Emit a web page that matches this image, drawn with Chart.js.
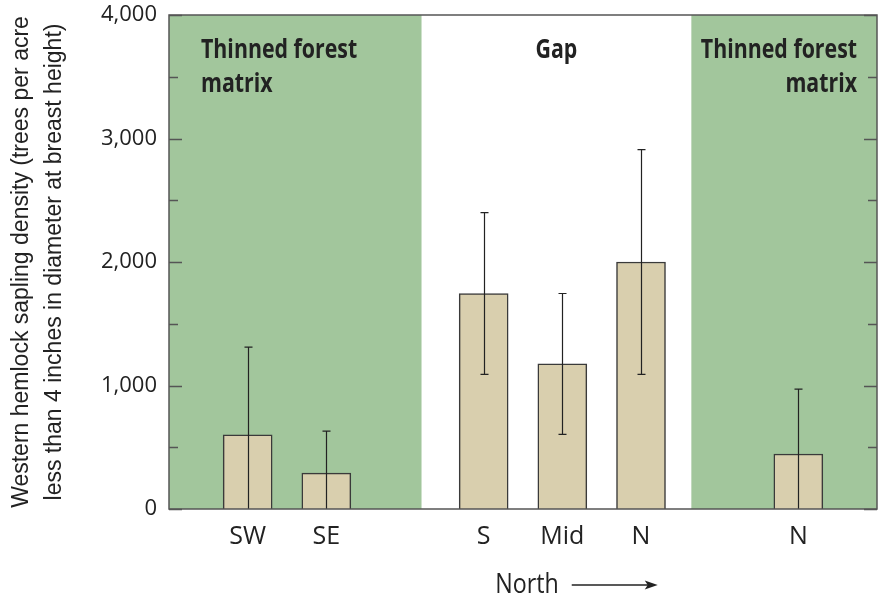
<!DOCTYPE html>
<html>
<head>
<meta charset="utf-8">
<script src="https://cdn.jsdelivr.net/npm/chart.js@4.4.1/dist/chart.umd.min.js"></script>
<style>
  body { margin: 0; background: #fff; }
  #wrap { width: 880px; height: 598px; }
</style>
</head>
<body>
<div id="wrap"><canvas id="chartHemlock"></canvas></div>
<script>
// blank slots keep the gap between the forest matrix and the gap sites
const siteLabels = ['', 'SW', 'SE', '', 'S', 'Mid', 'N', '', 'N', ''];
const meanDensity = [null, 600, 290, null, 1745, 1175, 2000, null, 445, null];
const sdDensity = [null, 710, 340, null, 655, 570, 910, null, 525, null];

const yMin = 0;
const yMax = 4000;
const yStep = 500;

// zone edges in category-index units, with their header text
const zoneEdges = [0, 3.21, 6.64, 9];
const zoneNames = [['Thinned forest', 'matrix'], ['Gap'], ['Thinned forest', 'matrix']];
const zoneShaded = [true, false, true];

const yTitle = ['Western hemlock sapling density (trees per acre',
                'less than 4 inches in diameter at breast height)'];
const xTitle = 'North';

const GREEN = '#a2c69c';
const TAN = '#d9cfae';
const INK = '#222222';
const FRAME = '#555555';
const SANS = "'Open Sans', 'Liberation Sans', sans-serif";

// draw text squeezed horizontally (the original face is a condensed one)
function squeezedText(ctx, text, x, y, sx) {
    ctx.save();
    ctx.translate(x, y);
    ctx.scale(sx, 1);
    ctx.fillText(text, 0, 0);
    ctx.restore();
}

const decor = {
    id: 'decor',
    beforeDatasetsDraw(chart) {
        const { ctx, chartArea: a, scales: { x } } = chart;
        ctx.save();
        ctx.fillStyle = GREEN;
        for (let i = 0; i < zoneNames.length; i++) {
            if (!zoneShaded[i]) continue;
            const x0 = x.getPixelForValue(zoneEdges[i]);
            const x1 = x.getPixelForValue(zoneEdges[i + 1]);
            ctx.fillRect(x0, a.top, x1 - x0, a.bottom - a.top);
        }
        ctx.restore();
    },
    afterDatasetsDraw(chart) {
        const { ctx, chartArea: a, scales: { y } } = chart;
        const bars = chart.getDatasetMeta(0).data;
        ctx.save();

        // error bars (lower end clipped at zero, no cap there)
        ctx.strokeStyle = INK;
        ctx.lineWidth = 1.2;
        meanDensity.forEach((m, i) => {
            if (m === null) return;
            const bx = Math.round(bars[i].x) + 0.5;
            const hi = m + sdDensity[i];
            const lo = Math.max(0, m - sdDensity[i]);
            const yHi = y.getPixelForValue(hi);
            const yLo = y.getPixelForValue(lo);
            ctx.beginPath();
            ctx.moveTo(bx, yLo);
            ctx.lineTo(bx, yHi);
            ctx.moveTo(bx - 4, yHi);
            ctx.lineTo(bx + 4, yHi);
            if (lo > 0) {
                ctx.moveTo(bx - 4, yLo);
                ctx.lineTo(bx + 4, yLo);
            }
            ctx.stroke();
        });

        // frame
        ctx.strokeStyle = FRAME;
        ctx.lineWidth = 1.5;
        ctx.strokeRect(a.left, a.top, a.right - a.left, a.bottom - a.top);

        // inward ticks on both sides
        ctx.lineWidth = 1.3;
        for (let v = yMin; v <= yMax; v += yStep) {
            const py = Math.round(y.getPixelForValue(v)) + 0.5;
            const len = v % 1000 === 0 ? 13 : 9;
            ctx.beginPath();
            ctx.moveTo(a.left, py);
            ctx.lineTo(a.left + len, py);
            ctx.moveTo(a.right, py);
            ctx.lineTo(a.right - len, py);
            ctx.stroke();
        }
        ctx.restore();
    },
    afterDraw(chart) {
        const { ctx, chartArea: a, scales: { x } } = chart;
        ctx.save();
        ctx.fillStyle = INK;
        ctx.textBaseline = 'alphabetic';
        ctx.font = 'bold 27px ' + SANS;
        zoneNames.forEach((lines, i) => {
            const x0 = x.getPixelForValue(zoneEdges[i]);
            const x1 = x.getPixelForValue(zoneEdges[i + 1]);
            let tx, align;
            if (i === 0) { tx = x0 + 32; align = 'left'; }
            else if (i === zoneNames.length - 1) { tx = x1 - 20; align = 'right'; }
            else { tx = (x0 + x1) / 2; align = 'center'; }
            ctx.textAlign = align;
            lines.forEach((t, k) => squeezedText(ctx, t, tx, a.top + 43 + k * 34, 0.79));
        });

        // axis caption with arrow
        ctx.font = '27px ' + SANS;
        ctx.textAlign = 'left';
        const sx = 0.86;
        const cx = (a.left + a.right) / 2;
        const tw = ctx.measureText(xTitle).width * sx;
        const tx = cx + 4 - tw / 2;
        squeezedText(ctx, xTitle, tx, 593, sx);
        const ax0 = tx + tw + 13;
        const ax1 = ax0 + 86;
        ctx.strokeStyle = INK;
        ctx.lineWidth = 1.5;
        ctx.beginPath();
        ctx.moveTo(ax0, 585);
        ctx.lineTo(ax1 - 8, 585);
        ctx.stroke();
        ctx.beginPath();
        ctx.moveTo(ax1, 585);
        ctx.lineTo(ax1 - 13, 580.5);
        ctx.lineTo(ax1 - 10, 585);
        ctx.lineTo(ax1 - 13, 589.5);
        ctx.closePath();
        ctx.fill();
        ctx.restore();
    }
};

new Chart(document.getElementById('chartHemlock').getContext('2d'), {
    type: 'bar',
    data: {
        labels: siteLabels,
        datasets: [{
            data: meanDensity,
            backgroundColor: TAN,
            borderColor: '#3a3a3a',
            borderWidth: 1.5,
            barThickness: 49,
        }],
    },
    options: {
        responsive: true,
        maintainAspectRatio: false,
        animation: false,
        layout: { padding: { top: 15, right: 3, left: 0, bottom: 0 } },
        plugins: { legend: { display: false }, tooltip: { enabled: false } },
        scales: {
            x: {
                offset: false,
                grid: { display: false, drawTicks: false },
                border: { display: false },
                ticks: {
                    autoSkip: false,
                    maxRotation: 0,
                    padding: 13,
                    color: INK,
                    font: { family: SANS, size: 25 },
                },
                afterFit(scale) {
                    scale.height = 89;
                    scale.paddingLeft = 0;
                    scale.paddingRight = 0;
                },
            },
            y: {
                min: yMin,
                max: yMax,
                grid: { display: false, drawTicks: false },
                border: { display: false },
                ticks: {
                    stepSize: yStep,
                    padding: 12,
                    color: INK,
                    font: { family: SANS, size: 22 },
                    callback: (v) => (v % 1000 === 0 ? v.toLocaleString('en-US') : ''),
                },
                title: {
                    display: true,
                    text: yTitle,
                    color: INK,
                    padding: { top: 5.5, bottom: 0 },
                    font: { family: "'Liberation Sans', Arial, sans-serif", size: 23, lineHeight: 33 / 23 },
                },
                afterFit(scale) {
                    scale.width = 169;
                    scale.paddingTop = 0;
                    scale.paddingBottom = 0;
                },
            },
        },
    },
    plugins: [decor],
});
</script>
</body>
</html>
